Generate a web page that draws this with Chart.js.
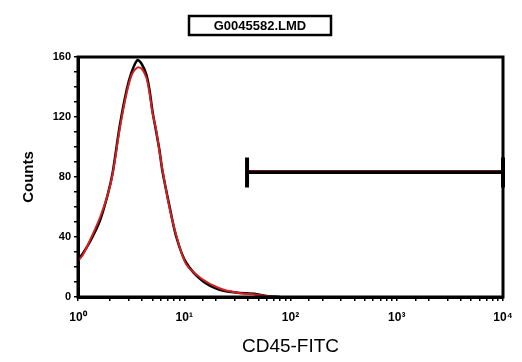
<!DOCTYPE html>
<html>
<head>
<meta charset="utf-8">
<script src="https://cdn.jsdelivr.net/npm/chart.js@4"></script>
<style>
  html, body { margin: 0; padding: 0; background: #fff; overflow: hidden; }
  canvas { display: block; }
</style>
</head>
<body>
<canvas id="histo" width="522" height="362"></canvas>
<script>
// datos
const titulo = "G0045582.LMD";
const fluorescencia = [1, 1.11, 1.3, 1.61, 1.9, 2.12, 2.47, 2.87, 3.2, 3.63, 4.0, 4.41, 4.71, 5.02, 5.45, 5.84, 6.23, 7.24, 8.42, 10.4, 14.7, 21.2, 30.6, 47, 62, 80];
const cuentasNegro = [25, 29, 37, 51, 68, 83, 114, 138, 150, 158, 155, 148, 138, 124, 110, 98, 84, 61, 40, 23, 11, 5, 3, 2, 0.5, 0];
const cuentasRojo = [24, 28, 38, 53, 68, 82, 112, 136, 148, 153, 152, 146, 136, 123, 111, 97, 85, 60, 41, 22, 12, 6, 3, 1.5, 0.5, 0];
const marcador = [39, 10000];
const marcadorNivel = 83;
const ticksY = [0, 40, 80, 120, 160];
const ticksX = ["10\u2070", "10\u00b9", "10\u00b2", "10\u00b3", "10\u2074"];

const puntos = (xs, ys) => xs.map((x, i) => ({ x: x, y: ys[i] }));
const fuente = "'Liberation Sans', Arial, sans-serif";

// caja del grafico y del titulo
const marco = {
    id: "marco",
    afterDraw(chart) {
        const ctx = chart.ctx;
        const a = chart.chartArea;
        ctx.save();
        ctx.strokeStyle = "#000";
        ctx.lineWidth = 3;
        ctx.strokeRect(a.left, a.top, a.right - a.left, a.bottom - a.top);
        // titulo
        ctx.lineWidth = 2.5;
        ctx.fillStyle = "#fff";
        ctx.fillRect(188, 15, 144, 21);
        ctx.strokeRect(189, 16, 142, 19);
        ctx.fillStyle = "#000";
        ctx.font = "bold 13px " + fuente;
        ctx.textAlign = "center";
        ctx.textBaseline = "middle";
        ctx.fillText(titulo, 260, 26);
        ctx.restore();
    }
};

new Chart(document.getElementById("histo"), {
    type: "line",
    data: {
        datasets: [
            {
                label: "rojo",
                data: puntos(fluorescencia, cuentasRojo),
                borderColor: "#d42020",
                borderWidth: 2,
                pointRadius: 0,
                tension: 0.3,
                order: 1
            },
            {
                label: "negro",
                data: puntos(fluorescencia, cuentasNegro),
                borderColor: "#000",
                borderWidth: 2.5,
                pointRadius: 0,
                tension: 0.3,
                order: 2
            },
            {
                label: "marcador",
                data: puntos(marcador, [marcadorNivel, marcadorNivel]),
                borderColor: "#000",
                backgroundColor: "#000",
                borderWidth: 3,
                pointStyle: "line",
                rotation: 90,
                pointRadius: 15,
                pointBorderWidth: 4,
                clip: false,
                order: 0
            },
            {
                label: "marcadorRojo",
                data: puntos(marcador, [marcadorNivel + 1.2, marcadorNivel + 1.2]),
                borderColor: "#6b1818",
                borderWidth: 1.5,
                pointRadius: 0,
                order: 0
            }
        ]
    },
    options: {
        responsive: false,
        animation: false,
        maintainAspectRatio: false,
        layout: { padding: { top: 57, right: 17, left: 16, bottom: 0 } },
        plugins: { legend: { display: false }, tooltip: { enabled: false }, title: { display: false } },
        scales: {
            x: {
                type: "logarithmic",
                min: 1,
                max: 10000,
                afterFit: (s) => { s.height = 65; },
                grid: { drawOnChartArea: false, tickLength: 4, color: "#000", lineWidth: 1.5 },
                border: { color: "#000", width: 3 },
                ticks: {
                    autoSkip: false,
                    maxRotation: 0,
                    color: "#000",
                    font: { size: 12, weight: "bold", family: fuente },
                    padding: 9,
                    callback: function (v) {
                        const l = Math.log10(v);
                        return Math.abs(l - Math.round(l)) < 1e-9 ? ticksX[Math.round(l)] : "";
                    }
                },
                title: {
                    display: true,
                    text: "CD45-FITC",
                    color: "#000",
                    font: { size: 19, family: fuente },
                    padding: { top: 0 }
                }
            },
            y: {
                min: 0,
                max: 160,
                afterFit: (s) => { s.width = 62; },
                grid: { drawOnChartArea: false, tickLength: 4, color: "#000", lineWidth: 1.5 },
                border: { color: "#000", width: 3 },
                ticks: {
                    stepSize: 10,
                    autoSkip: false,
                    color: "#000",
                    font: { size: 11, weight: "bold", family: fuente },
                    padding: 3,
                    callback: (v) => ticksY.includes(v) ? String(v) : ""
                },
                title: {
                    display: true,
                    text: "Counts",
                    color: "#000",
                    font: { size: 15, weight: "bold", family: fuente },
                    padding: { bottom: 4 }
                }
            }
        }
    },
    plugins: [marco]
});
</script>
</body>
</html>
